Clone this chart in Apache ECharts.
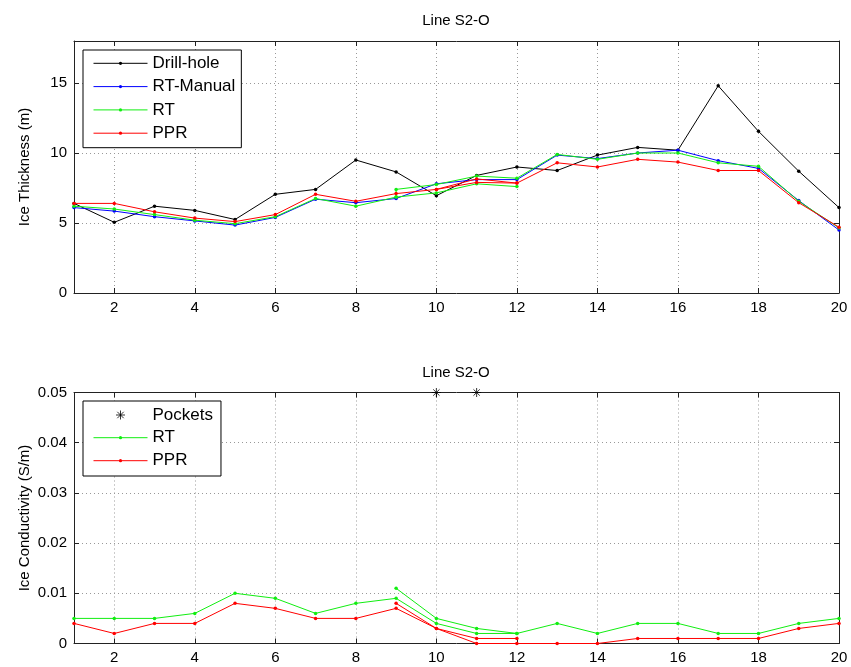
<!DOCTYPE html>
<html><head><meta charset="utf-8">
<script src="https://cdn.jsdelivr.net/npm/echarts@6/dist/echarts.min.js"></script>
<style>html,body{margin:0;padding:0;background:#fff}#c{width:851px;height:667px}</style>
</head><body><div id="c"></div>
<script>
// ---------- data ----------
const stations = [1,2,3,4,5,6,7,8,9,10,11,12,13,14,15,16,17,18,19,20];
const xTicks = [2,4,6,8,10,12,14,16,18,20];
const thickTicks = [0,5,10,15];
const condTicks = [0,0.01,0.02,0.03,0.04,0.05];

// Ice thickness (m)
const drillHole = [6.4,5.05,6.2,5.9,5.25,7.05,7.4,9.5,8.65,6.95,8.4,9.0,8.75,9.85,10.4,10.2,14.8,11.55,8.7,6.1];
const rtManual  = [6.1,5.85,5.45,5.15,4.85,5.4,6.7,6.45,6.75,7.8,8.1,8.1,9.85,9.6,10.0,10.2,9.45,8.9,6.6,4.5];
const rtX       = [1,2,3,4,5,6,7,8,9,9,10,11,12,13,14,15,16,17,18,19,20];
const rtThick   = [6.2,6.0,5.6,5.2,4.95,5.45,6.75,6.2,6.85,7.4,7.75,8.35,8.2,9.9,9.55,10.0,10.0,9.3,9.05,6.55,4.65];
const rtLowX    = [9,10,11,12];
const rtLowThick= [6.85,7.15,7.8,7.6];
const pprThick  = [6.4,6.4,5.8,5.35,5.1,5.6,7.05,6.55,7.1,7.4,8.15,7.85,9.3,9.0,9.55,9.35,8.75,8.75,6.45,4.7];
const pprLowX   = [10,11,12];
const pprLowThick = [7.4,7.9,7.85];

// Ice conductivity (S/m)
const pocketX    = [10,11];
const pocketCond = [0.05,0.05];
const rtCond     = [0.005,0.005,0.005,0.006,0.010,0.009,0.006,0.008,0.009,0.004,0.002,0.002,0.004,0.002,0.004,0.004,0.002,0.002,0.004,0.005];
const rtHighX    = [9,10,11,12];
const rtHighCond = [0.011,0.005,0.003,0.002];
const pprCond    = [0.004,0.002,0.004,0.004,0.008,0.007,0.005,0.005,0.007,0.003,0,0,0,0,0.001,0.001,0.001,0.001,0.003,0.004];
const pprHighX   = [9,10,11,12];
const pprHighCond= [0.008,0.003,0.001,0.001];

// ---------- chart ----------
const FONT = '"Liberation Sans", Arial, sans-serif';
const GREEN = '#11ee11';
const pairs = (xs, ys) => xs.map((x, i) => [x, ys[i]]);
const ASTER = 'path://M4,0L4,8M0,4L8,4M1.2,1.2L6.8,6.8M1.2,6.8L6.8,1.2';
const ASTER_ICON = 'path://M0,0M54,10M27,0.5L27,9.5M22.5,5L31.5,5M23.8,1.8L30.2,8.2M23.8,8.2L30.2,1.8';

function xAx(gridIndex, pos, main) {
  return {
    type: 'value', gridIndex, position: pos, min: 1, max: 20, interval: 1,
    axisLine: { show: true, onZero: false, lineStyle: { color: '#222', width: 1 } },
    axisTick: { show: true, inside: true, length: 5, customValues: xTicks, lineStyle: { color: '#222' } },
    axisLabel: { show: main, customValues: xTicks, color: '#000', fontSize: 15, fontFamily: FONT, margin: 7 },
    splitLine: { show: main, customValues: xTicks, lineStyle: { color: '#999', width: 1, type: [1, 3] } }
  };
}
function yAx(gridIndex, pos, main, min, max, interval, ticks, name) {
  return {
    type: 'value', gridIndex, position: pos, min, max, interval,
    name: main ? name : '', nameLocation: 'middle', nameGap: 42, nameRotate: 90, nameMoveOverlap: false,
    nameTextStyle: { color: '#000', fontSize: 15, fontFamily: FONT },
    axisLine: { show: true, onZero: false, lineStyle: { color: '#222', width: 1 } },
    axisTick: { show: true, inside: true, length: 5, customValues: ticks, lineStyle: { color: '#222' } },
    axisLabel: { show: main, customValues: ticks, color: '#000', fontSize: 15, fontFamily: FONT, margin: 7 },
    splitLine: { show: main, customValues: ticks, lineStyle: { color: '#999', width: 1, type: [1, 3] } }
  };
}
function lineS(name, color, data, xi, yi, z) {
  return {
    type: 'line', name, xAxisIndex: xi, yAxisIndex: yi, data, z: z,
    symbol: 'circle', symbolSize: 3.5, showSymbol: true,
    lineStyle: { color, width: 1 }, itemStyle: { color },
    emphasis: { disabled: true }, animation: false
  };
}
const legendText = { color: '#000', fontSize: 17, fontFamily: FONT };

const chart = echarts.init(document.getElementById('c'));
chart.setOption({
  backgroundColor: '#fff',
  animation: false,
  title: [
    { text: 'Line S2-O', left: 456, top: 13, textAlign: 'center', padding: 0,
      textStyle: { color: '#000', fontSize: 15, fontWeight: 'normal', fontFamily: FONT } },
    { text: 'Line S2-O', left: 456, top: 365, textAlign: 'center', padding: 0,
      textStyle: { color: '#000', fontSize: 15, fontWeight: 'normal', fontFamily: FONT } }
  ],
  grid: [
    { left: 74, right: 12, top: 41, height: 252, containLabel: false },
    { left: 74, right: 12, top: 392.5, height: 251, containLabel: false }
  ],
  xAxis: [ xAx(0, 'bottom', true), xAx(0, 'top', false), xAx(1, 'bottom', true), xAx(1, 'top', false) ],
  yAxis: [
    yAx(0, 'left', true, 0, 18, 5, thickTicks, 'Ice Thickness (m)'),
    yAx(0, 'right', false, 0, 18, 5, thickTicks, ''),
    yAx(1, 'left', true, 0, 0.05, 0.01, condTicks, 'Ice Conductivity (S/m)'),
    yAx(1, 'right', false, 0, 0.05, 0.01, condTicks, '')
  ],
  legend: [
    { data: ['Drill-hole', 'RT-Manual', 'RT', 'PPR'], orient: 'vertical', left: 83, top: 50,
      itemWidth: 54, itemHeight: 4, itemGap: 6.3, padding: [4.8, 6, 6, 10],
      lineStyle: { width: 1 },
      borderColor: '#000', borderWidth: 1, backgroundColor: '#fff', selectedMode: false, z: 10,
      textStyle: legendText },
    { data: [{ name: 'Pockets', icon: ASTER_ICON, itemStyle: { color: '#000', borderColor: '#000', borderWidth: 1 } }],
      orient: 'vertical', left: 83, top: 401, itemWidth: 54, itemHeight: 10, padding: [5.5, 8, 52.5, 10],
      borderColor: '#000', borderWidth: 1, backgroundColor: '#fff', selectedMode: false, z: 10,
      textStyle: legendText },
    { data: ['RT', 'PPR'], orient: 'vertical', left: 93, top: 429.2, itemWidth: 54, itemHeight: 4, itemGap: 6,
      lineStyle: { width: 1 },
      padding: 0, selectedMode: false, z: 11, textStyle: legendText }
  ],
  series: [
    lineS('Drill-hole', '#000000', pairs(stations, drillHole), 0, 0, 2),
    lineS('RT-Manual', '#0000ff', pairs(stations, rtManual), 0, 0, 3),
    lineS('RT', GREEN, pairs(rtX, rtThick), 0, 0, 4),
    lineS('RT', GREEN, pairs(rtLowX, rtLowThick), 0, 0, 4),
    lineS('PPR', '#ff0000', pairs(stations, pprThick), 0, 0, 5),
    lineS('PPR', '#ff0000', pairs(pprLowX, pprLowThick), 0, 0, 5),
    { type: 'scatter', name: 'Pockets', xAxisIndex: 2, yAxisIndex: 2, data: pairs(pocketX, pocketCond),
      symbol: ASTER, symbolSize: 9, clip: false, z: 6,
      itemStyle: { color: '#000', borderColor: '#000', borderWidth: 1 }, emphasis: { disabled: true } },
    lineS('RT', GREEN, pairs(stations, rtCond), 2, 2, 4),
    lineS('RT', GREEN, pairs(rtHighX, rtHighCond), 2, 2, 4),
    lineS('PPR', '#ff0000', pairs(stations, pprCond), 2, 2, 5),
    lineS('PPR', '#ff0000', pairs(pprHighX, pprHighCond), 2, 2, 5)
  ]
});
</script>
</body></html>
